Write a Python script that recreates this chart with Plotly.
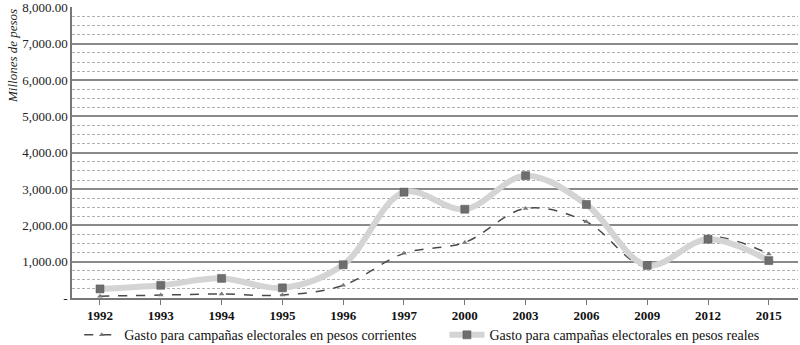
import plotly.graph_objects as go

years = ["1992", "1993", "1994", "1995", "1996", "1997", "2000", "2003", "2006", "2009", "2012", "2015"]
corrientes = [50, 80, 110, 80, 350, 1230, 1530, 2465, 2100, 850, 1685, 1215]
reales = [250, 350, 540, 280, 915, 2915, 2445, 3370, 2575, 897, 1620, 1030]
y_ticks = [0, 1000, 2000, 3000, 4000, 5000, 6000, 7000, 8000]
y_ticktext = ["-", "1,000.00", "2,000.00", "3,000.00", "4,000.00", "5,000.00", "6,000.00", "7,000.00", "8,000.00"]

serif = "Liberation Serif, DejaVu Serif, serif"

fig = go.Figure()
fig.add_trace(go.Scatter(
    x=years, y=corrientes, mode="lines+markers",
    name="Gasto para campañas electorales en pesos corrientes",
    line=dict(color="#4a4a4a", width=1.5, dash="dash", shape="spline", smoothing=1.0),
    marker=dict(symbol="triangle-up", size=5, color="#7a7a7a"),
    legend="legend",
))
fig.add_trace(go.Scatter(
    x=years, y=reales, mode="lines+markers",
    name="Gasto para campañas electorales en pesos reales",
    line=dict(color="#d4d4d4", width=6, shape="spline", smoothing=1.0),
    marker=dict(symbol="square", size=8, color="#6e6e6e", line=dict(color="#555", width=0.5)),
    legend="legend2",
))

leg_common = dict(orientation="h", yanchor="middle", xanchor="left", bgcolor="rgba(0,0,0,0)",
                  font=dict(size=14, family=serif, color="#111"), itemwidth=35)

fig.update_layout(
    width=800, height=345,
    margin=dict(l=72, r=2, t=7, b=47, autoexpand=False),
    plot_bgcolor="white", paper_bgcolor="white",
    font=dict(family=serif, color="#222"),
    showlegend=True,
    legend=dict(x=0.01, y=-0.128, **leg_common),
    legend2=dict(x=0.513, y=-0.128, **leg_common),
    xaxis=dict(
        type="category", range=[-0.46, 11.48], showgrid=False, showline=True,
        linecolor="#777", linewidth=1.5,
        ticks="outside", ticklen=5, tickcolor="#777",
        tickfont=dict(size=13, family=serif, color="#111", weight="bold"),
    ),
    yaxis=dict(
        range=[0, 8015], tickvals=y_ticks, ticktext=y_ticktext, ticklabeloverflow="allow",
        showgrid=True, gridcolor="#8a8a8a", gridwidth=2,
        showline=True, linecolor="#777", linewidth=1.5, zeroline=False,
        tickfont=dict(size=13, family=serif, color="#222"),
        minor=dict(dtick=250, showgrid=True, gridcolor="#b0b0b0", gridwidth=1, griddash="3px,2px"),
    ),
    annotations=[dict(
        text="<i>Millones de pesos</i>", textangle=-90, showarrow=False,
        xref="paper", yref="paper", x=-60 / 726, y=1.0, xanchor="center", yanchor="top",
        font=dict(size=13, family=serif, color="#222"),
    )],
)

fig.write_html("out.html", config={"displayModeBar": False},
               post_script="document.body.style.margin='0';")
